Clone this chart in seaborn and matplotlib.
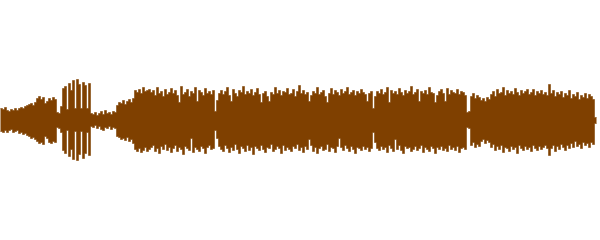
import numpy as np
import pandas as pd
import matplotlib
matplotlib.use("Agg")
import matplotlib.pyplot as plt
import seaborn as sns

# Waveform envelope (peak amplitude above / below the centre line), one value per 2-pixel column
intro_top = [12, 11, 13, 10, 9, 11, 10, 12, 10, 12, 13, 12, 14, 15, 16, 17, 15, 18, 22, 24,
             21, 23, 17, 19, 22, 20, 23, 21, 8, 7]
intro_bot = [11, 12, 10, 12, 10, 9, 12, 11, 10, 13, 12, 14, 13, 15, 16, 18, 17, 19, 21, 23,
             22, 24, 16, 18, 22, 23, 21, 22, 7, 8]
burst_top = [14, 32, 34, 11, 37, 30, 40, 12, 41, 36, 12, 38, 35, 12, 37]
burst_bot = [12, 30, 33, 10, 36, 29, 39, 11, 40, 34, 11, 38, 33, 12, 35]
lull_top = [7, 6, 8, 5, 7, 9, 6, 10, 7, 8, 6, 9, 8]
lull_bot = [6, 7, 5, 8, 6, 9, 10, 7, 8, 6, 9, 7, 8]
ramp_top = [15, 18, 17, 20, 16, 19, 21, 18, 22, 30, 28, 31, 27, 33, 29, 30, 31]
ramp_bot = [16, 17, 19, 18, 20, 17, 21, 19, 23, 29, 31, 28, 32, 30, 27, 31, 29]
body1_top = [28, 30, 25, 33, 27, 29, 24, 31, 26, 28, 32, 27, 30, 25, 18, 34, 26, 28, 31, 24,
             29, 27, 33, 19, 30, 28, 25, 32, 27, 29, 26, 30, 9, 20]
body1_bot = [27, 25, 31, 28, 33, 26, 29, 24, 30, 27, 32, 28, 25, 31, 27, 29, 34, 26, 28, 30,
             18, 32, 27, 29, 31, 26, 28, 33, 27, 25, 29, 28, 10, 18]
body2_top = [27, 30, 26, 29, 33, 25, 19, 31, 27, 24, 30, 28, 34, 26, 29, 27, 31, 25, 28, 32,
             26, 18, 27, 29, 24, 19, 28, 26, 33, 27, 30, 25, 29, 28, 32, 26, 27, 31, 24, 29,
             35, 27, 30, 26, 28, 19, 25, 29, 27, 33, 26, 28, 30, 24, 18, 27, 32, 26, 30, 28,
             25, 31, 27, 29, 33, 26, 28, 30, 25, 29, 27, 31, 28, 26, 19, 27, 29, 12]
body2_bot = [26, 29, 31, 25, 28, 32, 27, 30, 24, 29, 33, 26, 28, 31, 25, 30, 27, 34, 26, 28,
             30, 25, 29, 32, 27, 28, 24, 31, 29, 26, 28, 33, 25, 30, 27, 29, 31, 26, 28, 24,
             30, 27, 32, 26, 29, 19, 25, 31, 27, 33, 28, 26, 30, 29, 24, 31, 27, 28, 32, 26,
             18, 27, 30, 25, 28, 31, 26, 29, 33, 27, 28, 30, 26, 29, 27, 31, 28, 12]
body3_top = [24, 29, 27, 31, 26, 28, 33, 18, 30, 27, 29, 26, 32, 28, 25, 30, 27, 29, 34, 26,
             28, 31, 19, 29, 27, 30, 26, 33, 28, 27, 18, 25, 29, 31, 27, 19, 32, 26, 30, 28,
             27, 31, 26, 29, 28, 25, 8, 9]
body3_bot = [22, 28, 30, 26, 29, 27, 32, 25, 28, 31, 19, 29, 25, 30, 33, 26, 28, 27, 31, 29,
             26, 30, 28, 25, 32, 27, 29, 31, 26, 28, 33, 27, 29, 26, 30, 28, 31, 25, 29, 27,
             30, 26, 32, 28, 27, 29, 7, 8]
outro_top = [24, 27, 22, 25, 23, 20, 22, 19, 23, 21,
             26, 29, 24, 31, 27, 28, 33, 25, 30, 27, 29, 26, 32, 28, 25, 30, 27, 29, 31, 26,
             28, 31, 25, 29, 27, 30, 26, 28, 25, 36, 27, 30, 24, 28, 26, 29, 23, 27, 25, 30,
             22, 26, 24, 28, 21, 25, 23, 27, 22, 26, 24, 21, 3]
outro_bot = [25, 22, 27, 24, 26, 21, 19, 23, 20, 22,
             27, 24, 30, 26, 29, 25, 32, 27, 28, 31, 26, 29, 27, 33, 25, 28, 30, 26, 29, 27,
             31, 25, 28, 30, 26, 29, 27, 25, 28, 35, 28, 25, 31, 26, 29, 24, 27, 30, 25, 28,
             23, 27, 21, 26, 24, 28, 22, 25, 23, 27, 22, 24, 3]

top = np.array(intro_top + burst_top + lull_top + ramp_top + body1_top + body2_top + body3_top + outro_top, float)
bot = np.array(intro_bot + burst_bot + lull_bot + ramp_bot + body1_bot + body2_bot + body3_bot + outro_bot, float)

col_w = 2
t = np.arange(len(top) + 1) * col_w
top_s = np.append(top, top[-1])
bot_s = np.append(bot, bot[-1])
df = pd.DataFrame({"t": t, "top": top_s, "bot": -bot_s})

sns.set_style("white")
fig = plt.figure(figsize=(6, 2.4), dpi=100)
ax = fig.add_axes([0, 0, 1, 1])
color = "#7f4000"
ax.fill_between(df["t"], df["bot"], df["top"], step="post", color=color, linewidth=0)
sns.lineplot(data=df, x="t", y="top", drawstyle="steps-post", color=color, linewidth=0.4, ax=ax)
sns.lineplot(data=df, x="t", y="bot", drawstyle="steps-post", color=color, linewidth=0.4, ax=ax)
ax.set_xlim(0, 600)
ax.set_ylim(-120, 120)
ax.axis("off")
fig.savefig("out.png", dpi=100, facecolor="white")
